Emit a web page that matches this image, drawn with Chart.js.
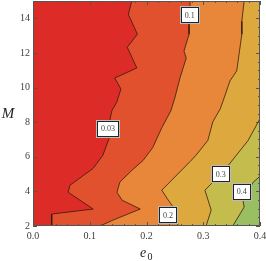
<!DOCTYPE html>
<html>
<head>
<meta charset="utf-8">
<script src="https://cdn.jsdelivr.net/npm/chart.js@4.4.0/dist/chart.umd.min.js"></script>
<style>
  html, body { margin: 0; padding: 0; background: #fff; }
  #wrap { width: 266px; height: 261px; }
</style>
</head>
<body>
<div id="wrap"><canvas id="contourChart" width="266" height="261"></canvas></div>
<script>
// axis ranges and ticks
const xRange = [0, 0.4];
const yRange = [2, 15];
const xTicks = [0, 0.1, 0.2, 0.3, 0.4];
const yTicks = [2, 4, 6, 8, 10, 12, 14];

// contour levels, fill colours from low to high
const levels = ['0.03', '0.1', '0.2', '0.3', '0.4'];
const regionColors = ['#dd2b27', '#e1512d', '#e8873a', '#dda83e', '#c4bc4c', '#99bf62'];

// contour lines (e0, M)
const c003E = [0.174, 0.168, 0.184, 0.166, 0.183, 0.144, 0.155, 0.150, 0.148, 0.139, 0.136, 0.134, 0.123, 0.106, 0.065, 0.062, 0.106, 0.033, 0.033];
const c003M = [15, 14.23, 13.08, 12.33, 11.13, 10.55, 9.92, 9.41, 9.18, 8.66, 8.20, 7.05, 6.08, 5.33, 4.35, 3.95, 2.98, 2.69, 2];

const c01E = [0.277, 0.275, 0.275, 0.266, 0.270, 0.259, 0.250, 0.243, 0.227, 0.211, 0.194, 0.174, 0.153, 0.148, 0.157, 0.189, 0.141, 0.118];
const c01M = [15, 13.65, 13.08, 12.10, 11.70, 10.55, 9.41, 8.66, 7.68, 6.53, 5.79, 5.21, 4.53, 3.95, 3.49, 2.98, 2.34, 2];

const c02E = [0.372, 0.368, 0.368, 0.359, 0.347, 0.335, 0.330, 0.317, 0.308, 0.287, 0.277, 0.227, 0.236, 0.247, 0.256];
const c02M = [15, 13.83, 13.08, 10.96, 10.38, 9.23, 8.77, 8.03, 6.94, 6.08, 5.73, 4.07, 3.61, 3.09, 2];

const c03E = [0.4, 0.379, 0.344, 0.315, 0.303, 0.314, 0.305];
const c03M = [8.20, 6.94, 5.50, 4.47, 4.07, 2.92, 2];

const c04E = [0.4, 0.388, 0.370, 0.372, 0.352];
const c04M = [4.87, 4.53, 3.49, 3.09, 2];

// where the contour labels sit
const labelE = [0.132, 0.276, 0.238, 0.331, 0.368];
const labelM = [7.63, 14.17, 2.63, 4.99, 3.98];

const contours = [[c003E, c003M], [c01E, c01M], [c02E, c02M], [c03E, c03M], [c04E, c04M]];

function toPoints(es, ms) {
    return es.map((e, i) => ({ x: e, y: ms[i] }));
}

// region above a level: the contour, then down/up the right edge
function regionPolygon(es, ms) {
    const pts = toPoints(es, ms);
    pts.push({ x: xRange[1], y: yRange[0] });
    pts.push({ x: xRange[1], y: ms[0] });
    return pts;
}

const datasets = [];
datasets.push({
    data: [
        { x: xRange[0], y: yRange[0] }, { x: xRange[1], y: yRange[0] },
        { x: xRange[1], y: yRange[1] }, { x: xRange[0], y: yRange[1] }
    ],
    backgroundColor: regionColors[0], borderColor: 'transparent', borderWidth: 0,
    fill: 'shape', order: 10
});
contours.forEach((c, i) => {
    datasets.push({
        data: regionPolygon(c[0], c[1]),
        backgroundColor: regionColors[i + 1], borderColor: 'transparent', borderWidth: 0,
        fill: 'shape', order: 9 - i
    });
});
contours.forEach(c => {
    datasets.push({
        data: toPoints(c[0], c[1]),
        borderColor: 'rgba(45,25,15,0.85)', borderWidth: 0.9,
        fill: false, order: 0
    });
});
datasets.forEach(d => { d.showLine = true; d.pointRadius = 0; d.tension = 0; });

const serif = '"Liberation Serif", "DejaVu Serif", serif';

// frame, inward ticks, contour labels and axis titles
const framePlugin = {
    id: 'frame',
    afterDatasetsDraw(chart) {
        const { ctx, chartArea: a, scales: { x, y } } = chart;
        ctx.save();

        // contour labels
        ctx.font = '8px ' + serif;
        ctx.textAlign = 'center';
        ctx.textBaseline = 'middle';
        levels.forEach((t, i) => {
            const cx = x.getPixelForValue(labelE[i]);
            const cy = y.getPixelForValue(labelM[i]);
            const w = Math.round(ctx.measureText(t).width + 8), h = 16;
            const l = Math.round(cx - w / 2), tp = Math.round(cy - h / 2);
            ctx.fillStyle = '#fff';
            ctx.fillRect(l - 1, tp - 1, w + 2, h + 2);
            ctx.strokeStyle = '#bbb';
            ctx.lineWidth = 1;
            ctx.strokeRect(l - 0.5, tp - 0.5, w + 1, h + 1);
            ctx.strokeStyle = '#222';
            ctx.strokeRect(l + 0.5, tp + 0.5, w - 1, h - 1);
            ctx.fillStyle = '#444';
            ctx.fillText(t, cx, cy + 0.5);
        });

        // frame
        ctx.strokeStyle = '#555';
        ctx.lineWidth = 1;
        ctx.strokeRect(a.left + 0.5, a.top + 0.5, a.width - 1, a.height - 1);

        // ticks pointing inward on all sides
        ctx.beginPath();
        for (let i = 0; i <= 20; i++) {
            const px = Math.round(x.getPixelForValue(i * 0.02)) + 0.5;
            const len = i % 5 === 0 ? 4 : 2;
            ctx.moveTo(px, a.bottom); ctx.lineTo(px, a.bottom - len);
            ctx.moveTo(px, a.top); ctx.lineTo(px, a.top + len);
        }
        for (let i = 0; i <= 26; i++) {
            const py = Math.round(y.getPixelForValue(yRange[0] + i * 0.5)) + 0.5;
            const len = i % 4 === 0 ? 4 : 2;
            ctx.moveTo(a.left, py); ctx.lineTo(a.left + len, py);
            ctx.moveTo(a.right, py); ctx.lineTo(a.right - len, py);
        }
        ctx.stroke();

        // axis titles
        ctx.fillStyle = '#222';
        ctx.textBaseline = 'alphabetic';
        ctx.textAlign = 'center';
        ctx.font = 'italic 15px ' + serif;
        ctx.fillText('M', 8, 118);
        ctx.textAlign = 'left';
        ctx.font = 'italic 14px ' + serif;
        ctx.fillText('e', 140, 257);
        ctx.font = '10px ' + serif;
        ctx.fillText('0', 147.5, 260);
        ctx.restore();
    }
};

const tickFont = { family: serif, size: 10 };

new Chart(document.getElementById('contourChart'), {
    type: 'scatter',
    data: { datasets },
    options: {
        animation: false,
        responsive: false,
        layout: { padding: { top: 1, right: 6, left: 0, bottom: 0 } },
        plugins: { legend: { display: false }, tooltip: { enabled: false } },
        scales: {
            x: {
                type: 'linear', min: xRange[0], max: xRange[1],
                grid: { display: false, drawTicks: false },
                border: { display: false },
                ticks: {
                    font: tickFont, color: '#3c3c3c', padding: 4, maxRotation: 0,
                    callback: v => v.toFixed(1)
                },
                afterBuildTicks: s => { s.ticks = xTicks.map(v => ({ value: v })); },
                afterFit: s => { s.height = 35; s.paddingLeft = 0; s.paddingRight = 0; }
            },
            y: {
                type: 'linear', min: yRange[0], max: yRange[1],
                grid: { display: false, drawTicks: false },
                border: { display: false },
                ticks: { font: tickFont, color: '#3c3c3c', padding: 3 },
                afterBuildTicks: s => { s.ticks = yTicks.map(v => ({ value: v })); },
                afterFit: s => { s.width = 33; s.paddingTop = 0; s.paddingBottom = 0; }
            }
        }
    },
    plugins: [framePlugin]
});
</script>
</body>
</html>
